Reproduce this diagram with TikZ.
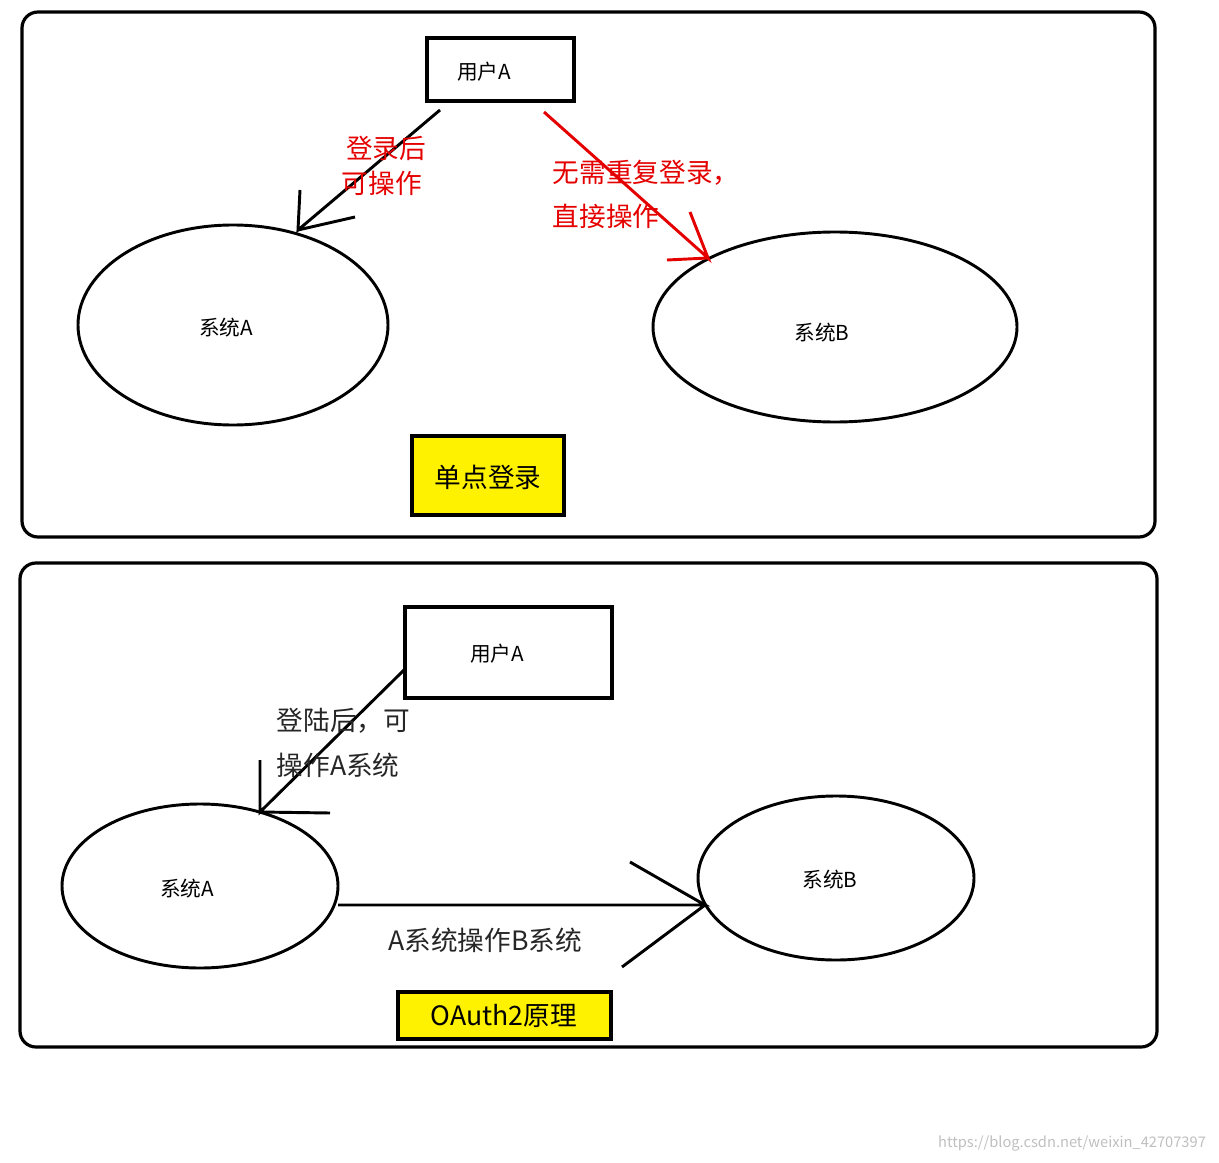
\documentclass[tikz,border=0pt]{standalone}
\usepackage{fontspec}
\newfontfamily\cjk{Noto Sans CJK SC}
\begin{document}
\begin{tikzpicture}[x=0.75pt,y=-0.75pt,
 frame/.style={line width=2.4pt,rounded corners=12pt},
 box/.style={draw,line width=2.4pt,font=\cjk\fontsize{15}{18}\selectfont},
 ell/.style={draw,line width=2.4pt,ellipse},
 lab/.style={font=\cjk\fontsize{15.5}{18}\selectfont},
 big/.style={font=\cjk\fontsize{20}{27}\selectfont,align=left},
 ln/.style={line width=2.2pt},
 red/.style={ln,draw=red!90!black}]
\useasboundingbox (0,0) rectangle (1219,1162);
\draw[frame] (22,12) rectangle (1155,537);
\draw[frame] (20,563) rectangle (1157,1047);
% top
\draw[box] (427,38) rectangle (574,101);
\node[lab] (ua1) at (484,72) {用户A};
\draw[ln] (233,325) ellipse [x radius=155,y radius=100];
\node[lab] (sa1) at (226,328) {系统A};
\draw[ln] (835,327) ellipse [x radius=182,y radius=95];
\node[lab] (sb1) at (822,333) {系统B};
\coordinate (a1s) at (440,110); \coordinate (a1e) at (298,230);
\draw[ln] (a1s) -- (a1e) -- (300,190) (a1e) -- (355,217);
\node[big,text=red!90!black,font=\cjk\fontsize{20}{26}\selectfont] (t1) at (384,166) {\,登录后\\可操作};
\coordinate (r1s) at (544,112); \coordinate (r1e) at (708,258);
\draw[red] (r1s) -- (r1e) -- (690,212) (r1e) -- (667,260);
\node[big,text=red!90!black,anchor=west,font=\cjk\fontsize{20}{33}\selectfont] (t2) at (548,194) {无需重复登录，\\直接操作};
\draw[line width=2.4pt,fill=yellow] (412,436) rectangle (564,515);
\node[big] (y1) at (488,477) {单点登录};
% bottom
\draw[box] (405,607) rectangle (612,698);
\node[lab] (ua2) at (497,654) {用户A};
\draw[ln] (200,886) ellipse [x radius=138,y radius=82];
\node[lab] (sa2) at (187,889) {系统A};
\draw[ln] (836,878) ellipse [x radius=138,y radius=82];
\node[lab] (sb2) at (830,880) {系统B};
\coordinate (b1s) at (404,670); \coordinate (b1e) at (260,812);
\draw[ln] (b1s) -- (b1e) -- (260,760) (b1e) -- (330,813);
\node[big,anchor=west,text=black!85,font=\cjk\fontsize{20}{34}\selectfont] (t3) at (272,743) {登陆后，可\\操作A系统};
\coordinate (b2s) at (338,905); \coordinate (b2e) at (705,905);
\draw[ln] (b2s) -- (b2e) -- (630,862) (b2e) -- (622,967);
\node[big,text=black!85] (t4) at (485,940) {A系统操作B系统};
\draw[line width=2.4pt,fill=yellow] (398,992) rectangle (611,1039);
\node[big] (y2) at (504,1016) {OAuth2原理};
\node[font=\cjk\fontsize{11}{13}\selectfont,text=black!25] (wm) at (1072,1143) {https://blog.csdn.net/weixin\_42707397};
\end{tikzpicture}
\end{document}
